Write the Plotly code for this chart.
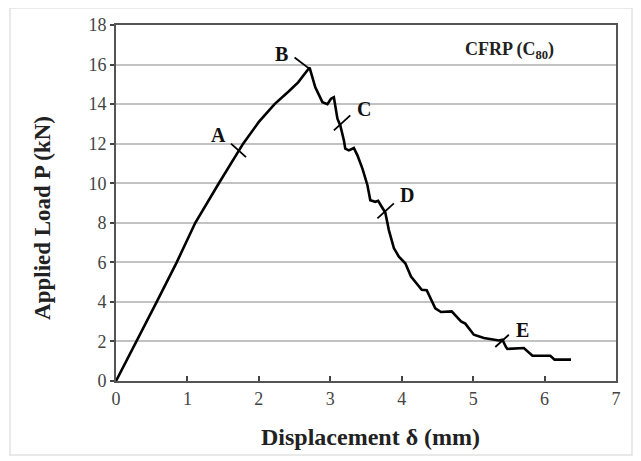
import plotly.graph_objects as go

# Load-displacement curve
disp = [0, 0.29, 0.57, 0.85, 1.11, 1.44, 1.72, 1.78, 2.00, 2.22, 2.42, 2.55, 2.71,
        2.79, 2.89, 2.96, 3.01, 3.05, 3.10, 3.14, 3.19, 3.21, 3.26, 3.33, 3.38, 3.45,
        3.52, 3.56, 3.63, 3.67, 3.72, 3.77, 3.82, 3.89, 3.96, 4.05, 4.13, 4.28, 4.35,
        4.47, 4.55, 4.70, 4.83, 4.89, 5.01, 5.15, 5.36, 5.41, 5.46, 5.48, 5.71, 5.83,
        6.08, 6.14, 6.37]
load = [0, 2.0, 4.0, 6.0, 8.0, 10.0, 11.6, 12.0, 13.1, 14.0, 14.65, 15.1, 15.85,
        14.85, 14.1, 14.0, 14.27, 14.35, 13.26, 12.92, 12.17, 11.75, 11.66, 11.78, 11.41, 10.74,
        9.9, 9.14, 9.06, 9.11, 8.81, 8.52, 7.63, 6.72, 6.29, 5.95, 5.28, 4.61, 4.59,
        3.67, 3.49, 3.52, 3.01, 2.90, 2.34, 2.17, 2.05, 2.09, 1.72, 1.62, 1.67, 1.28,
        1.28, 1.08, 1.08]

# Stage markers A-E: short tick segments and their labels
stage_labels = ["A", "B", "C", "D", "E"]
tick_x0 = [1.61, 2.50, 3.05, 3.66, 5.31]
tick_y0 = [12.0, 16.36, 12.67, 8.22, 1.72]
tick_x1 = [1.82, 2.71, 3.28, 3.89, 5.50]
tick_y1 = [11.32, 15.78, 13.43, 8.98, 2.34]
label_x = [1.43, 2.32, 3.47, 4.08, 5.69]
label_y = [12.42, 16.53, 13.76, 9.40, 2.59]

x_ticks = [0, 1, 2, 3, 4, 5, 6, 7]
y_ticks = [0, 2, 4, 6, 8, 10, 12, 14, 16, 18]

x_title = "Displacement δ (mm)"
y_title = "Applied Load P (kN)"
panel_label = "CFRP (C<sub>80</sub>)"

serif = "Liberation Serif"

fig = go.Figure()
fig.add_trace(go.Scatter(x=disp, y=load, mode="lines",
                         line=dict(color="black", width=2.6, shape="linear"),
                         showlegend=False, hoverinfo="skip"))

shapes = []
for x0, y0, x1, y1 in zip(tick_x0, tick_y0, tick_x1, tick_y1):
    shapes.append(dict(type="line", xref="x", yref="y", x0=x0, y0=y0, x1=x1, y1=y1,
                       line=dict(color="black", width=1.8)))
# faint outer frame of the picture
shapes.append(dict(type="rect", xref="paper", yref="paper",
                   x0=-106/500, x1=516/500, y0=-74/356.5, y1=(356.5+17)/356.5,
                   line=dict(color="#e2e2e2", width=1.5), layer="below"))

annotations = []
for t, x, y in zip(stage_labels, label_x, label_y):
    annotations.append(dict(x=x, y=y, xref="x", yref="y", text="<b>" + t + "</b>",
                            showarrow=False,
                            font=dict(family=serif, size=20, color="#111"),
                            xanchor="center", yanchor="middle"))
annotations.append(dict(x=5.51, y=16.7, xref="x", yref="y",
                        text="<b>" + panel_label + "</b>", showarrow=False,
                        font=dict(family=serif, size=18, color="#222"),
                        xanchor="center", yanchor="middle"))
annotations.append(dict(x=0.508, y=-0.156, xref="paper", yref="paper",
                        text="<b>" + x_title + "</b>", showarrow=False,
                        font=dict(family=serif, size=24, color="#222"),
                        xanchor="center", yanchor="middle"))
annotations.append(dict(x=-0.146, y=0.458, xref="paper", yref="paper",
                        text="<b>" + y_title + "</b>", showarrow=False, textangle=-90,
                        font=dict(family=serif, size=23, color="#222"),
                        xanchor="center", yanchor="middle"))

# page body adds an 8px offset, so margins are set 8px smaller on left/top
fig.update_layout(
    width=641, height=461,
    margin=dict(l=108, r=33, t=17, b=87.5, autoexpand=False),
    paper_bgcolor="white", plot_bgcolor="white",
    shapes=shapes, annotations=annotations,
    xaxis=dict(range=[0, 7], tickvals=x_ticks, ticks="inside", ticklen=5,
               tickcolor="#444", tickwidth=1.5, automargin=False,
               showline=True, linecolor="#555", linewidth=2, mirror=True,
               showgrid=False, zeroline=False,
               tickfont=dict(family=serif, size=18, color="#444")),
    yaxis=dict(range=[0, 18], tickvals=y_ticks, ticks="outside", ticklen=4,
               tickcolor="#444", tickwidth=1.5, automargin=False,
               showline=True, linecolor="#555", linewidth=2, mirror=True,
               showgrid=True, gridcolor="#c2c2c2", gridwidth=1.6, zeroline=False,
               tickfont=dict(family=serif, size=18, color="#444")),
)

fig.write_html("out.html")
